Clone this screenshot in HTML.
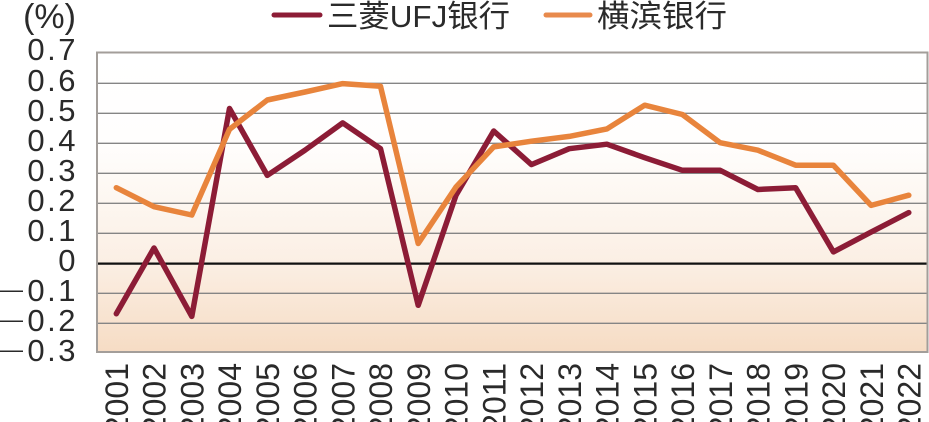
<!DOCTYPE html>
<html>
<head>
<meta charset="utf-8">
<style>
  html, body { margin: 0; padding: 0; background: #ffffff; }
  svg { display: block; }
  text { font-family: "Liberation Sans", "Noto Sans CJK SC", sans-serif; fill: #2a2a2a; }
</style>
</head>
<body>
<svg width="929" height="422" viewBox="0 0 929 422" xmlns="http://www.w3.org/2000/svg">
  <defs>
    <linearGradient id="bg" x1="0" y1="52" x2="0" y2="352" gradientUnits="userSpaceOnUse">
      <stop offset="0" stop-color="#ffffff"/>
      <stop offset="0.3" stop-color="#fffefd"/>
      <stop offset="0.7" stop-color="#fbefe4"/>
      <stop offset="1" stop-color="#f6dcc4"/>
    </linearGradient>
  </defs>

  <!-- plot background -->
  <rect x="97" y="52.5" width="830.5" height="299.5" fill="url(#bg)"/>

  <!-- grid lines -->
  <g stroke="#858585" stroke-width="1.3">
    <line x1="97" x2="927.5" y1="83.3" y2="83.3"/>
    <line x1="97" x2="927.5" y1="113.3" y2="113.3"/>
    <line x1="97" x2="927.5" y1="143.3" y2="143.3"/>
    <line x1="97" x2="927.5" y1="173.3" y2="173.3"/>
    <line x1="97" x2="927.5" y1="203.3" y2="203.3"/>
    <line x1="97" x2="927.5" y1="233.3" y2="233.3"/>
    <line x1="97" x2="927.5" y1="293.3" y2="293.3"/>
    <line x1="97" x2="927.5" y1="323.3" y2="323.3"/>
  </g>
  <line x1="97" x2="927.5" y1="263.6" y2="263.6" stroke="#111" stroke-width="2.2"/>

  <!-- plot border -->
  <rect x="97" y="52.5" width="830.5" height="299.5" fill="none" stroke="#a39e9a" stroke-width="2"/>

  <!-- series -->
  <polyline fill="none" stroke="#8c1c36" stroke-width="5.5" stroke-linejoin="round" stroke-linecap="round"
    points="116.3,313.7 154.0,248.0 191.8,316.4 229.5,108.5 267.3,175.4 305.0,150.2 342.7,122.9 380.5,148.7 418.2,305.3 456.0,195.2 493.7,131.0 531.4,164.6 569.2,148.7 606.9,144.2 644.7,157.7 682.4,170.3 720.1,170.3 757.9,189.5 795.6,187.7 833.4,251.9 871.1,232.1 908.8,212.6"/>
  <polyline fill="none" stroke="#e8843c" stroke-width="5.5" stroke-linejoin="round" stroke-linecap="round"
    points="116.3,187.7 154.0,206.7 191.8,215.0 229.5,129.3 267.3,100.0 305.0,92.0 342.7,83.6 380.5,86.3 418.2,243.5 456.0,187.0 493.7,146.9 531.4,141.2 569.2,136.4 606.9,128.9 644.7,105.2 682.4,114.5 720.1,142.7 757.9,150.2 795.6,165.2 833.4,165.2 871.1,205.4 908.8,195.2"/>

  <!-- legend -->
  <line x1="274" x2="320" y1="15" y2="15" stroke="#8c1c36" stroke-width="5" stroke-linecap="round"/>
  <text x="327" y="27" font-size="31" textLength="183" lengthAdjust="spacingAndGlyphs" style="font-family:'Liberation Sans','Noto Sans CJK SC',sans-serif">三菱UFJ银行</text>
  <line x1="546" x2="590" y1="15" y2="15" stroke="#e88a4c" stroke-width="5" stroke-linecap="round"/>
  <text x="597" y="27" font-size="31" textLength="130" lengthAdjust="spacingAndGlyphs" style="font-family:'Liberation Sans','Noto Sans CJK SC',sans-serif">横滨银行</text>

  <!-- y axis unit -->
  <text x="76" y="28" font-size="34" text-anchor="end">(%)</text>

  <!-- y labels -->
  <g font-size="31" text-anchor="end" letter-spacing="2.5">
    <text x="78" y="60">0.7</text>
    <text x="78" y="91">0.6</text>
    <text x="78" y="121">0.5</text>
    <text x="78" y="151">0.4</text>
    <text x="78" y="181">0.3</text>
    <text x="78" y="211">0.2</text>
    <text x="78" y="241">0.1</text>
    <text x="78" y="271">0</text>
    <text x="78" y="301">0.1</text>
    <text x="78" y="331">0.2</text>
    <text x="78" y="361">0.3</text>
  </g>
  <g font-size="23">
    <text x="0" y="297">—</text>
    <text x="0" y="327">—</text>
    <text x="0" y="357">—</text>
  </g>

  <!-- x labels -->
  <g font-size="32" text-anchor="end">
    <text transform="translate(128,363) rotate(-90)">2001</text>
    <text transform="translate(165.7,363) rotate(-90)">2002</text>
    <text transform="translate(203.5,363) rotate(-90)">2003</text>
    <text transform="translate(241.2,363) rotate(-90)">2004</text>
    <text transform="translate(279,363) rotate(-90)">2005</text>
    <text transform="translate(316.7,363) rotate(-90)">2006</text>
    <text transform="translate(354.4,363) rotate(-90)">2007</text>
    <text transform="translate(392.2,363) rotate(-90)">2008</text>
    <text transform="translate(429.9,363) rotate(-90)">2009</text>
    <text transform="translate(467.7,363) rotate(-90)">2010</text>
    <text transform="translate(505.4,363) rotate(-90)">2011</text>
    <text transform="translate(543.1,363) rotate(-90)">2012</text>
    <text transform="translate(580.9,363) rotate(-90)">2013</text>
    <text transform="translate(618.6,363) rotate(-90)">2014</text>
    <text transform="translate(656.4,363) rotate(-90)">2015</text>
    <text transform="translate(694.1,363) rotate(-90)">2016</text>
    <text transform="translate(731.8,363) rotate(-90)">2017</text>
    <text transform="translate(769.6,363) rotate(-90)">2018</text>
    <text transform="translate(807.3,363) rotate(-90)">2019</text>
    <text transform="translate(845.1,363) rotate(-90)">2020</text>
    <text transform="translate(882.8,363) rotate(-90)">2021</text>
    <text transform="translate(920.5,363) rotate(-90)">2022</text>
  </g>
</svg>
</body>
</html>
